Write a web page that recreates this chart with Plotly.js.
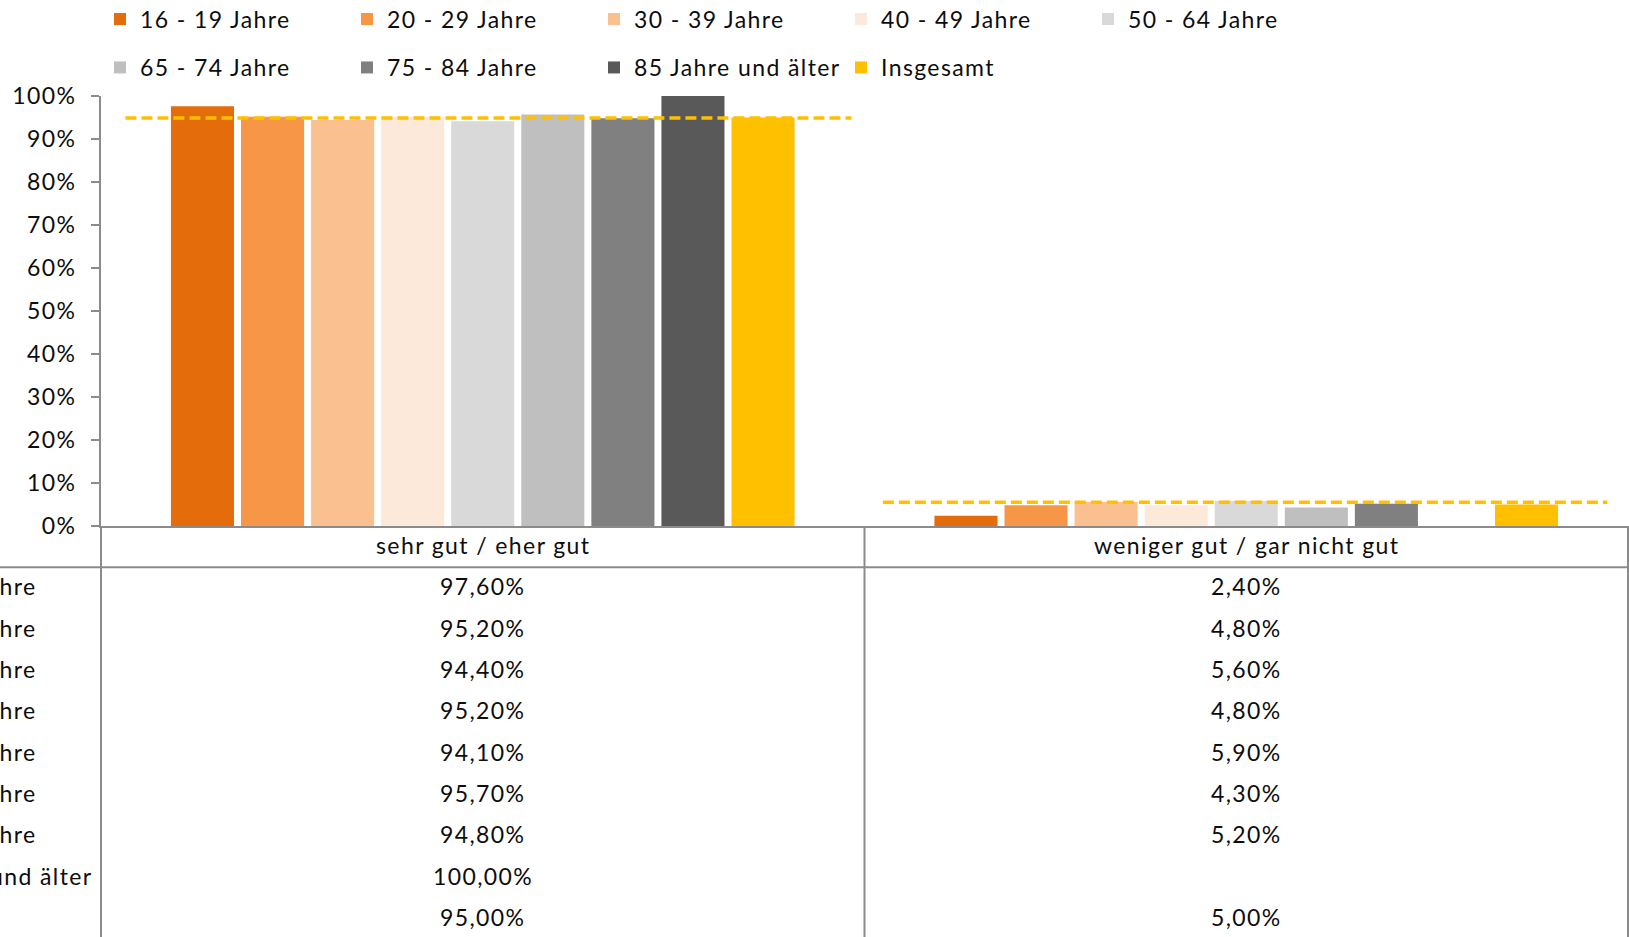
<!DOCTYPE html>
<html>
<head>
<meta charset="utf-8">
<script src="https://cdn.plot.ly/plotly-3.0.1.min.js"></script>
<style>
html, body { margin: 0; padding: 0; background: #fff; }
#chart { width: 1629px; height: 937px; }
svg text { letter-spacing: 1.4px; }
</style>
</head>
<body>
<div id="chart"></div>
<script>
// ---------- data ----------
const categories = ['sehr gut / eher gut', 'weniger gut / gar nicht gut'];
const seriesNames = ['16 - 19 Jahre', '20 - 29 Jahre', '30 - 39 Jahre', '40 - 49 Jahre', '50 - 64 Jahre',
                     '65 - 74 Jahre', '75 - 84 Jahre', '85 Jahre und älter', 'Insgesamt'];
const goodValues = [97.6, 95.2, 94.4, 95.2, 94.1, 95.7, 94.8, 100.0, 95.0];
const badValues  = [2.4, 4.8, 5.6, 4.8, 5.9, 4.3, 5.2, null, 5.0];
const refLineValues = [94.9, 5.5];
const seriesColors = ['#E46C0A', '#F79646', '#FAC090', '#FDE9D9', '#D9D9D9',
                      '#BFBFBF', '#808080', '#595959', '#FFC000'];
const yTickVals = [0, 10, 20, 30, 40, 50, 60, 70, 80, 90, 100];
const yTickText = ['0%', '10%', '20%', '30%', '40%', '50%', '60%', '70%', '80%', '90%', '100%'];

// ---------- layout constants (pixels) ----------
const W = 1629, H = 937;
const ML = 101, MR = 1, MT = 96, MB = 411;
const PW = W - ML - MR, PH = H - MT - MB;
const FONT = 'Lato, sans-serif';
const FS = 23;
const FW = 400;
const TXT = '#0d0d0d';
const GRID = '#8b8b8b';

const px2x = X => (X - ML) / PW;
const px2y = Y => (H - MB - Y) / PH;

const fmt = v => (v === null || v === undefined) ? '' : v.toFixed(2).replace('.', ',') + '%';
const fnt = { family: FONT, size: FS, color: TXT, weight: FW };

// ---------- traces ----------
const traces = seriesNames.map((name, i) => ({
  type: 'bar',
  name: name,
  x: categories,
  y: [goodValues[i], badValues[i]],
  marker: { color: seriesColors[i], line: { width: 0 } },
  legend: i < 5 ? 'legend' : 'legend2',
  hoverinfo: 'name+y'
}));

// dashed reference line per category (extent relative to category centre)
const lineExtent = [[-0.468, 0.483], [-0.476, 0.473]];
const lx = [], ly = [];
refLineValues.forEach((v, i) => {
  lx.push(i + lineExtent[i][0], i + lineExtent[i][1], null);
  ly.push(v, v, null);
});
traces.push({
  type: 'scatter', mode: 'lines', x: lx, y: ly, xaxis: 'x2', yaxis: 'y',
  line: { color: '#FFC000', width: 3.5, dash: '11px,5px' },
  showlegend: false, hoverinfo: 'skip'
});

// ---------- table (data table below axis) ----------
const shapes = [];
const ann = [];
const headerTop = 526, rowH = 41.3, textShift = -1.5;
const headerBottom = headerTop + rowH;
shapes.push({ type: 'line', xref: 'paper', yref: 'paper', x0: px2x(0), x1: 1, y0: px2y(headerBottom), y1: px2y(headerBottom),
  line: { color: GRID, width: 2 } });
[0, 0.5, 1].forEach(xp => {
  shapes.push({ type: 'line', xref: 'paper', yref: 'paper', x0: xp, x1: xp, y0: 0, y1: px2y(H + 5),
    line: { color: GRID, width: 2 } });
});
categories.forEach(c => {
  ann.push({ xref: 'x', yref: 'paper', x: c, y: px2y(headerTop + rowH / 2 + textShift), text: c, showarrow: false,
    xanchor: 'center', yanchor: 'middle', font: fnt });
});
// row labels: left aligned, longest label ends just left of the axis
const cnv = document.createElement('canvas').getContext('2d');
cnv.font = FW + ' ' + FS + 'px Lato';
try { cnv.letterSpacing = '1.4px'; } catch (e) {}
const longW = cnv.measureText(seriesNames[7]).width;
const labelLeft = 91 - longW;
seriesNames.forEach((name, i) => {
  const yc = px2y(headerBottom + rowH * i + rowH / 2 + textShift);
  ann.push({ xref: 'paper', yref: 'paper', x: px2x(labelLeft), y: yc, text: name, showarrow: false,
    xanchor: 'left', yanchor: 'middle', font: fnt });
  ann.push({ xref: 'x', yref: 'paper', x: categories[0], y: yc, text: fmt(goodValues[i]), showarrow: false,
    xanchor: 'center', yanchor: 'middle', font: fnt });
  ann.push({ xref: 'x', yref: 'paper', x: categories[1], y: yc, text: fmt(badValues[i]), showarrow: false,
    xanchor: 'center', yanchor: 'middle', font: fnt });
});

const legendCommon = {
  orientation: 'h', xanchor: 'left', yanchor: 'middle', x: px2x(100),
  entrywidth: 202, entrywidthmode: 'pixels', itemwidth: 30,
  font: fnt, bgcolor: 'rgba(0,0,0,0)', borderwidth: 0,
  traceorder: 'normal'
};

const layout = {
  width: W, height: H,
  margin: { l: ML, r: MR, t: MT, b: MB, pad: 0, autoexpand: false },
  paper_bgcolor: '#fff', plot_bgcolor: '#fff',
  font: fnt,
  barmode: 'group', bargap: 0.174, bargroupgap: 0.1,
  showlegend: true,
  legend: Object.assign({}, legendCommon, { y: px2y(19) }),
  legend2: Object.assign({}, legendCommon, { y: px2y(67.5) }),
  xaxis: {
    type: 'category', showticklabels: false, ticks: '', showgrid: false, zeroline: false,
    showline: true, linecolor: GRID, linewidth: 2, fixedrange: true
  },
  xaxis2: { overlaying: 'x', type: 'linear', range: [-0.5, 1.5], visible: false, fixedrange: true },
  yaxis: {
    range: [0, 100], tickvals: yTickVals, ticktext: yTickText, ticks: 'outside', ticklen: 8,
    tickcolor: GRID, tickwidth: 2, showline: true, linecolor: GRID, linewidth: 2,
    showgrid: false, zeroline: false, ticklabelstandoff: 10,
    tickfont: fnt, fixedrange: true
  },
  shapes: shapes,
  annotations: ann
};

Plotly.newPlot('chart', traces, layout, { displayModeBar: false, staticPlot: true });
</script>
</body>
</html>
